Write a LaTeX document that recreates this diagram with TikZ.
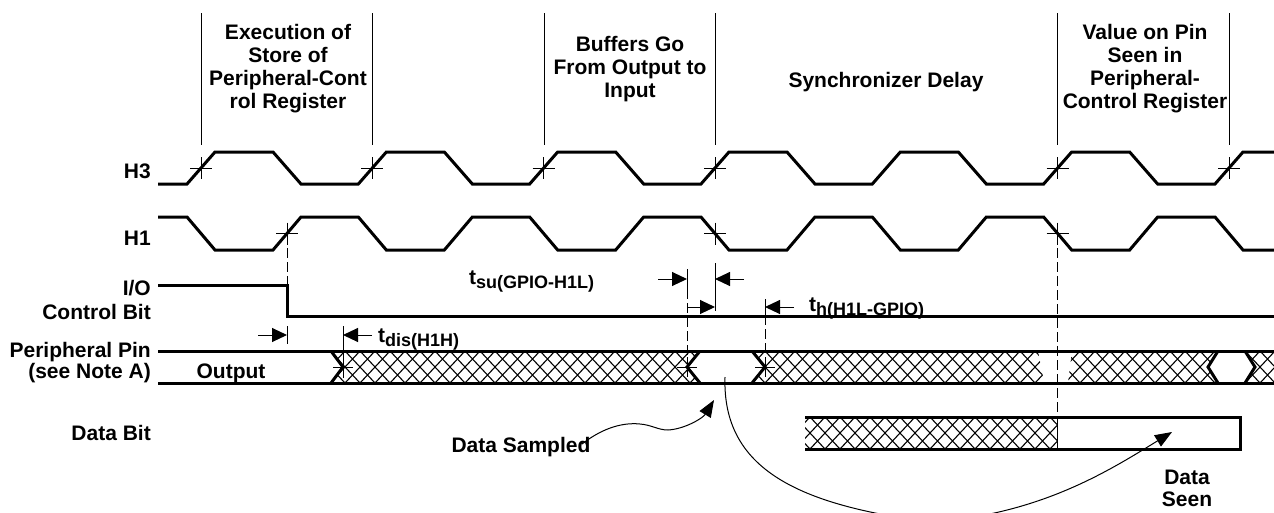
\documentclass[tikz,border=0pt]{standalone}
\usepackage{fontspec}
\setmainfont{Liberation Sans}
\usetikzlibrary{arrows.meta}
\newcommand{\tsubfont}{\fontsize{18}{18}\selectfont}
\begin{document}
\begin{tikzpicture}[x=1pt,y=-1pt,
  wave/.style={line width=3pt},
  thinl/.style={line width=1pt},
  dashl/.style={line width=1pt, dash pattern=on 10pt off 4pt},
  hatchl/.style={line width=1.1pt},
  dimarr/.style={line width=1pt,-{Triangle[length=15pt,width=14pt]}},
  curvarr/.style={line width=1pt,-{Triangle[length=17pt,width=13pt]}},
  lbl/.style={font=\fontsize{21}{23}\selectfont\bfseries, inner sep=0pt},
  smalllbl/.style={font=\fontsize{21}{22}\selectfont\bfseries, inner sep=0pt},
]
\useasboundingbox (0,0) rectangle (1274,512);

% ---- top separators and phase texts
\foreach \x in {201,372,544,715,1057.67,1229} \draw[thinl] (\x,13) -- (\x,145);
\node[lbl,align=center] (exec) at (288,68.5) {Execution of\\Store of\\Peripheral-Cont\\rol Register};
\node[lbl,align=center] (buf) at (630,69) {Buffers Go\\From Output to\\Input};
\node[lbl,anchor=base] (sync) at (886,87.5) {Synchronizer Delay};
\node[lbl,align=center] (val) at (1145,69) {Value on Pin\\Seen in\\Peripheral-\\Control Register};

% ---- left labels
\node[lbl,anchor=base east] (lh3) at (151,178.5) {H3};
\node[lbl,anchor=base east] (lh1) at (151,245) {H1};
\node[lbl,anchor=base east] (lio) at (151,295) {I/O};
\node[lbl,anchor=base east] (lcb) at (151,319.5) {Control Bit};
\node[lbl,anchor=base east] (lpp) at (151,357) {Peripheral Pin};
\node[lbl,anchor=base east] (lnote) at (151,378) {(see Note A)};
\node[lbl,anchor=base] (lout) at (231,378) {Output};
\node[lbl,anchor=base east] (ldb) at (151,440) {Data Bit};

% ---- clocks
\draw[wave] (158,184) \foreach \k in {0,...,5}{ -- ({187+171.33*\k},184) -- ({215+171.33*\k},152) -- ({273+171.33*\k},152) -- ({301+171.33*\k},184)} -- (1215,184) -- (1243,152) -- (1274,152);
\draw[wave] (158,217) \foreach \k in {0,...,5}{ -- ({187+171.33*\k},217) -- ({215+171.33*\k},250) -- ({273+171.33*\k},250) -- ({301+171.33*\k},217)} -- (1215,217) -- (1243,250) -- (1274,250);
\foreach \x in {201,372.33,543.67,715,1057.67,1229}
  \draw[thinl] (\x,168) +(-11,0) -- +(11,0) +(0,-11) -- +(0,11);
\foreach \x in {287,715,1057.67}
  \draw[thinl] (\x,233.5) +(-11,0) -- +(11,0) +(0,-11) -- +(0,11);

% ---- I/O control bit
\draw[wave] (158,285) -- (287,285) -- (287,316) -- (1274,316);
\draw[dashl] (287,234) -- (287,285);
\draw[dashl] (1057.67,234) -- (1057.67,417);

% ---- peripheral pin hatching
\begin{scope}
\clip (331,351) -- (700,351) -- (687,367) -- (700,383) -- (331,383) -- (343,367) -- cycle
      (752,351) -- (1038,351) -- (1044,383) -- (752,383) -- (765,367) -- cycle
      (1072,351) -- (1218,351) -- (1208,367) -- (1218,383) -- (1068,383) -- cycle
      (1245,351) -- (1280,351) -- (1280,383) -- (1245,383) -- (1255,367) -- cycle;
\foreach \x in {300,315,...,1305}{\draw[hatchl] (\x,351) -- ++(30,32) (\x,351) -- ++(-30,32);}
\end{scope}
\draw[wave] (158,351) -- (1274,351);
\draw[wave] (158,383) -- (1274,383);
\draw[wave] (331,351) -- (343,367) -- (331,383);
\draw[wave] (700,351) -- (687,367) -- (700,383);
\draw[wave] (752,351) -- (765,367) -- (752,383);
\draw[wave] (1218,351) -- (1208,367) -- (1218,383);
\draw[wave] (1245,351) -- (1255,367) -- (1245,383);
\foreach \x in {343,687,765}
  \draw[thinl] (\x,367) +(-10,0) -- +(10,0) +(0,-10) -- +(0,10);

% ---- timing dimensions
\draw[thinl] (287,326) -- (287,344);
\draw[dimarr] (258,335) -- (287,335);
\draw[thinl] (343,326) -- (343,378);
\draw[dimarr] (372,335) -- (343,335);
\node[lbl,anchor=base west] (tdis) at (378,342) {t\raisebox{-4pt}{\tsubfont dis(H1H)}};

\draw[thinl] (687,269) -- (687,289);
\draw[dashl] (687,289) -- (687,367);
\draw[dimarr] (658,279) -- (687,279);
\draw[thinl] (715,263) -- (715,311);
\draw[dimarr] (744,279) -- (715,279);
\draw[dimarr] (687,307) -- (715,307);
\draw[thinl] (765,299) -- (765,315);
\draw[dashl] (765,315) -- (765,367);
\draw[dimarr] (794,307) -- (765,307);
\node[lbl,anchor=base west] (tsu) at (469,284) {t\raisebox{-4pt}{\tsubfont su(GPIO-H1L)}};
\node[lbl,anchor=base west] (th) at (809,311) {t\raisebox{-4pt}{\tsubfont h(H1L-GPIO)}};

% ---- data bit
\begin{scope}
\clip (805,417) rectangle (1057.67,449);
\foreach \x in {780,795,...,1095}{\draw[hatchl] (\x,417) -- ++(30,32) (\x,417) -- ++(-30,32);}
\end{scope}
\draw[wave] (805,417) -- (1240,417) -- (1240,449) -- (805,449);
\draw[thinl] (1057.67,417) -- (1057.67,449);

% ---- annotations
\node[lbl] (samp) at (521,447) {Data Sampled};
\node[smalllbl,align=center] (seen) at (1187,488) {Data\\Seen};
\draw[curvarr] (582,444) .. controls (600,430) and (620,422) .. (640,424) .. controls (652,425) and (658,430) .. (668,430) .. controls (685,429) and (703,418) .. (714,400);
\begin{scope}
\clip (0,0) rectangle (1274,512);
\draw[curvarr] (725,377) .. controls (722,470) and (800,505) .. (930,522) .. controls (1040,515) and (1110,470) .. (1172,432);
\end{scope}
\end{tikzpicture}
\end{document}
